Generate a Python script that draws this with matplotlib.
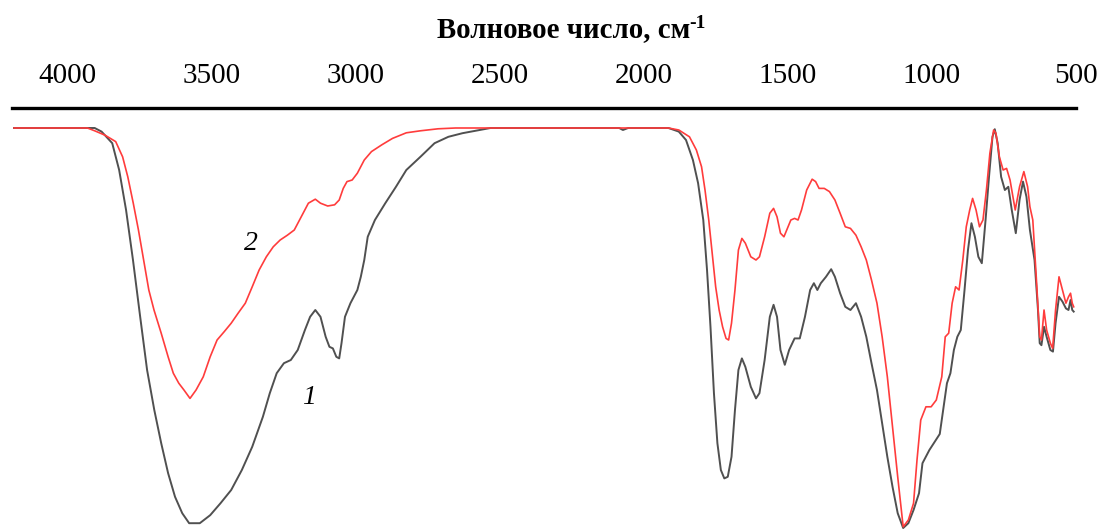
import matplotlib
matplotlib.use("Agg")
import matplotlib.pyplot as plt

# ---- data (wavenumber, cm^-1 ; transmittance, a.u.) ----
wn_1 = [4187, 3907, 3883, 3846, 3822, 3798, 3774, 3749, 3725, 3700, 3676, 3652, 3628, 3603,
        3579, 3542, 3506, 3470, 3433, 3396, 3360, 3323, 3299, 3275, 3250, 3226, 3202, 3177,
        3159, 3141, 3123, 3105, 3092, 3080, 3068, 3058, 3050, 3038, 3019, 2995, 2983, 2971,
        2959, 2934, 2898, 2861, 2825, 2776, 2727, 2679, 2630, 2569, 2533,
        2086, 2073, 2055, 1915, 1879, 1854, 1830, 1812, 1794, 1781, 1769, 1757, 1745, 1733,
        1721, 1709, 1696, 1684, 1672, 1660, 1648, 1629, 1611, 1599, 1581, 1563, 1550, 1538,
        1526, 1511, 1496, 1477, 1459, 1441, 1423, 1410, 1398, 1386, 1368, 1350, 1337, 1319,
        1301, 1283, 1264, 1246, 1228, 1210, 1191, 1173, 1155, 1137, 1119, 1100, 1082, 1064,
        1045, 1033, 1009, 991, 973, 960, 948, 936, 924, 912, 900, 887, 875, 863, 851, 839,
        827, 814, 802, 790, 782, 772, 760, 747, 735, 723, 709, 696, 684, 672, 660, 644, 632,
        626, 620, 611, 602, 589, 580, 571, 559, 547, 535, 526, 519, 513, 508]
tr_1 = [100, 100, 99.1, 96.2, 89.5, 79.5, 67, 52.8, 39.5, 29.5, 21.2, 13.7, 7.8, 3.7,
        1.2, 1.2, 3.2, 6.2, 9.5, 14.5, 20.3, 27.8, 33.7, 38.7, 41.2, 42, 44.5, 49.5,
        52.8, 54.5, 52.8, 47.8, 45.3, 44.9, 42.8, 42.4, 46.2, 52.8, 56.2, 59.5, 62.8, 67,
        72.8, 77, 81.2, 85.3, 89.5, 92.8, 96.2, 97.8, 98.7, 99.5, 100,
        100, 99.5, 100, 100, 99.1, 97, 92, 86.2, 77, 64.5, 50.3, 33.7, 21.2, 14.5,
        12.4, 12.8, 17.8, 29.5, 39.5, 42.4, 40.3, 35.3, 32.4, 33.7, 42, 52.8, 55.8, 52.8,
        44.5, 40.8, 44.5, 47.4, 47.4, 52.8, 59.5, 61.2, 59.5, 61.2, 62.8, 64.7, 62.8, 58.7,
        55.3, 54.5, 56.2, 52.8, 47.8, 41.2, 34.5, 26.2, 17.8, 10.3, 3.7, 0, 1.2, 4.5,
        8.7, 16.2, 19.5, 21.5, 23.5, 30.2, 36.2, 38.7, 44.5, 47.8, 49.5, 59.5, 69.5, 76.2, 72.8, 67.8,
        66.2, 77, 87.8, 97.8, 99.7, 96.2, 87.8, 84.5, 85.3, 79.5, 73.7, 82, 86.6, 82.8, 74.5, 67, 54.5,
        46.2, 45.7, 50.3, 47.8, 44.5, 44.1, 51.2, 57.8, 56.6, 54.9, 54.5, 57, 54.5, 54.1]

wn_2 = [4187, 3932, 3907, 3871, 3834, 3810, 3792, 3773, 3755, 3737, 3719, 3701, 3676, 3652,
        3634, 3615, 3597, 3576, 3555, 3530, 3506, 3482, 3457, 3433, 3409, 3384, 3360, 3336,
        3311, 3287, 3263, 3238, 3214, 3190, 3165, 3141, 3123, 3098, 3074, 3058, 3044, 3031,
        3013, 2995, 2971, 2946, 2910, 2873, 2825, 2776, 2715, 2654,
        1915, 1879, 1842, 1818, 1800, 1788, 1775, 1763, 1751, 1739, 1727, 1715, 1706, 1696,
        1684, 1672, 1660, 1648, 1629, 1611, 1599, 1581, 1563, 1550, 1538, 1526, 1514, 1502,
        1490, 1477, 1465, 1453, 1435, 1416, 1404, 1392, 1374, 1356, 1337, 1319, 1301, 1283,
        1264, 1246, 1228, 1210, 1191, 1173, 1155, 1137, 1119, 1100, 1082, 1064, 1052, 1039,
        1021, 1003, 985, 966, 954, 942, 930, 918, 906, 893, 881, 869, 859, 847, 835, 823,
        811, 799, 786, 778, 766, 753, 741, 729, 711, 696, 681, 668, 660, 650, 638, 626, 620,
        611, 602, 589, 581, 571, 559, 547, 535, 526, 519, 513, 508]
tr_2 = [100, 100, 99.3, 98.2, 96.6, 92.8, 87.8, 81.2, 74.5, 67, 59.5, 54.5, 48.7, 42.8,
        38.7, 36.2, 34.5, 32.4, 34.5, 37.8, 42.8, 47, 49.1, 51.2, 53.7, 56.2, 60.3, 64.5,
        67.8, 70.3, 72, 73.2, 74.5, 77.8, 81.2, 82.2, 81.2, 80.5, 80.8, 82, 84.9, 86.6,
        87, 88.7, 92, 94.1, 95.8, 97.4, 98.8, 99.3, 99.8, 100,
        100, 99.5, 97.8, 94.5, 90.3, 84.5, 77, 68.7, 60.3, 54.5, 50.3, 47.4, 47, 51.2,
        59.5, 69.5, 72.4, 71.2, 67.8, 67, 67.8, 72.8, 78.7, 79.9, 77.8, 73.7, 72.8, 74.9,
        77, 77.4, 77, 79.5, 84.5, 87.2, 86.6, 84.9, 84.9, 84.1, 82, 78.7, 75.3, 74.9,
        73.2, 70.3, 67, 62, 56.2, 47.8, 37.8, 25.3, 12.8, 0.3, 2, 6.2, 17, 27,
        30.3, 30.3, 32, 37.8, 47.8, 48.7, 56.2, 60.3, 59.5, 67, 75.3, 79.5, 82.4, 79.5, 75.3, 77,
        84.5, 93.7, 99.5, 98.7, 92.8, 89.5, 89.9, 87, 79.5, 85.3, 89.1, 85.3, 80.3, 77, 62.8, 47.8, 47,
        54.5, 49.5, 46.2, 44.9, 54.5, 62.8, 59.5, 56.2, 57.8, 58.7, 56.2, 55.3]

tick_values = [4000, 3500, 3000, 2500, 2000, 1500, 1000, 500]
curve_labels = ["1", "2"]
label_pos_1 = (3164, 32.7)
label_pos_2 = (3366, 71.2)

title_main = "Волновое число, см"
title_sup = "-1"

# ---- figure ----
W, H = 1101, 530
fig = plt.figure(figsize=(W / 100, H / 100), dpi=100)
ax = fig.add_axes([12 / W, 2 / H, 1064 / W, 420 / H])

ax.plot(wn_1, tr_1, color="#505050", lw=1.4, solid_joinstyle="round", clip_on=False, zorder=2)
ax.plot(wn_2, tr_2, color="#ff3c3c", lw=1.2, solid_joinstyle="round", clip_on=False, zorder=3)

ax.set_xlim(4194, 503)
ax.set_ylim(0, 105)

for s in ("left", "right", "bottom"):
    ax.spines[s].set_visible(False)
ax.spines["top"].set_linewidth(2.4)
ax.spines["top"].set_color("black")

ax.xaxis.tick_top()
ax.set_xticks(tick_values)
ax.set_xticklabels([str(v) for v in tick_values], fontfamily="Liberation Serif", fontsize=21)
ax.tick_params(axis="x", length=0, pad=14)
ax.set_yticks([])

ax.text(*label_pos_1, curve_labels[0], fontfamily="Liberation Serif", fontstyle="italic",
        fontsize=20, ha="center", va="center")
ax.text(*label_pos_2, curve_labels[1], fontfamily="Liberation Serif", fontstyle="italic",
        fontsize=20, ha="center", va="center")

# title with superscript
t = fig.text(437 / W, 1 - 37.5 / H, title_main, fontfamily="Liberation Serif",
             fontweight="bold", fontsize=20.8, ha="left", va="baseline")
fig.canvas.draw()
bb = t.get_window_extent()
fig.text((bb.x1 - 1) / W, 1 - 28 / H, title_sup, fontfamily="Liberation Serif",
         fontweight="bold", fontsize=14, ha="left", va="baseline")

fig.savefig("out.png", dpi=100)
